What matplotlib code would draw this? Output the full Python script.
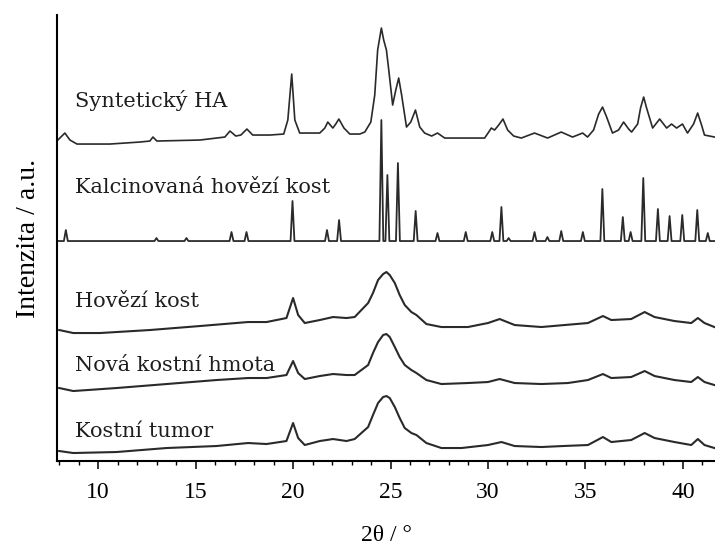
import matplotlib
matplotlib.use("Agg")
import matplotlib.pyplot as plt
import numpy as np
from matplotlib.ticker import MultipleLocator

# XRD patterns, 2theta in degrees, intensity in a.u. above each trace's own baseline
ha_2theta = [7.93, 8.29, 8.55, 8.91, 10.60, 12.14, 12.65, 12.81, 13.01, 15.22, 16.50, 16.76,
             17.06, 17.32, 17.63, 17.93, 18.81, 19.52, 19.73, 19.93, 20.09, 20.34, 21.37,
             21.63, 21.78, 22.04, 22.19, 22.35, 22.61, 22.91, 23.42, 23.68, 23.99, 24.19,
             24.34, 24.53, 24.65, 24.79, 24.91, 25.11, 25.27, 25.42, 25.57, 25.82, 26.04,
             26.28, 26.50, 26.75, 27.11, 27.41, 27.78, 29.83, 30.04, 30.17, 30.34, 30.55,
             30.77, 31.01, 31.32, 31.71, 32.39, 33.06, 33.76, 34.34, 34.86, 35.11, 35.42,
             35.68, 35.88, 36.09, 36.39, 36.70, 36.96, 37.22, 37.37, 37.68, 37.83, 37.99,
             38.14, 38.45, 38.81, 39.17, 39.42, 39.68, 39.98, 40.24, 40.55, 40.76, 40.96,
             41.11, 41.63]
ha_int = [3, 10, 3, -1, -1, 1, 2, 6, 2, 3, 6, 12,
          7, 8, 14, 8, 8, 9, 23, 69, 23, 10, 10,
          15, 21, 15, 19, 24, 15, 9, 9, 11, 21, 48,
          93, 115, 103, 93, 73, 38, 53, 65, 48, 16, 21,
          33, 16, 10, 7, 10, 5, 5, 11, 15, 13, 18,
          24, 13, 7, 5, 10, 5, 11, 6, 10, 6, 13,
          29, 36, 26, 10, 13, 21, 14, 11, 19, 35, 46,
          35, 15, 24, 15, 19, 15, 19, 10, 19, 30, 18,
          8, 6]

# calcined bone: sharp reflections (position, height)
calc_pos = [8.34, 12.99, 14.53, 16.84, 17.61, 19.97, 21.74, 22.36, 24.53, 24.84, 25.38,
            26.29, 27.41, 28.86, 30.22, 30.69, 31.06, 32.39, 33.05, 33.76, 34.87, 35.87,
            36.92, 37.32, 37.97, 38.72, 39.32, 39.97, 40.74, 41.28]
calc_height = [11, 3, 3, 9, 9, 40, 11, 21, 121, 66, 78,
               30, 8, 9, 9, 34, 3, 9, 4, 10, 9, 52,
               24, 9, 63, 32, 25, 26, 31, 8]

bone_2theta = [8.00, 8.72, 10.09, 12.65, 15.22, 17.69, 18.64, 19.66, 20.00, 20.26, 20.60,
               21.37, 22.05, 22.74, 23.16, 23.85, 24.10, 24.36, 24.62, 24.79, 24.96, 25.22,
               25.47, 25.73, 26.07, 26.33, 26.84, 27.61, 28.97, 30.00, 30.60, 31.37, 32.74,
               33.93, 35.13, 35.90, 36.33, 37.35, 38.04, 38.55, 39.57, 40.43, 40.77, 41.11,
               41.62]
bone_int = [2, -1, -1, 2, 6, 10, 10, 14, 34, 17, 9,
            12, 15, 14, 15, 29, 39, 52, 58, 60, 57, 49,
            37, 27, 20, 17, 8, 5, 5, 9, 13, 7, 5,
            7, 9, 16, 12, 13, 20, 15, 11, 9, 14, 9,
            5]

new_2theta = [8.00, 8.72, 10.94, 13.51, 16.07, 17.69, 18.64, 19.66, 20.00, 20.26, 20.60,
              21.37, 22.05, 22.74, 23.16, 23.85, 24.10, 24.36, 24.62, 24.79, 24.96, 25.22,
              25.47, 25.73, 26.07, 26.33, 26.84, 27.61, 28.97, 30.00, 30.60, 31.37, 32.74,
              34.10, 35.13, 35.90, 36.33, 37.35, 38.04, 38.55, 39.57, 40.43, 40.77, 41.11,
              41.62]
new_int = [1, -2, 1, 5, 9, 11, 11, 14, 28, 16, 10,
           13, 15, 14, 14, 24, 36, 47, 54, 55, 52, 42,
           32, 24, 19, 16, 9, 5, 6, 7, 10, 6, 5,
           6, 9, 15, 11, 12, 18, 13, 9, 7, 12, 7,
           4]

tumor_2theta = [8.00, 8.72, 10.94, 13.51, 16.07, 17.69, 18.64, 19.66, 20.00, 20.26, 20.60,
                21.37, 22.05, 22.74, 23.16, 23.85, 24.10, 24.36, 24.62, 24.79, 24.96, 25.22,
                25.47, 25.73, 26.07, 26.33, 26.84, 27.61, 28.64, 30.00, 30.69, 31.37, 32.74,
                33.85, 35.13, 35.90, 36.33, 37.35, 38.04, 38.55, 39.57, 40.43, 40.77, 41.11,
                41.62]
tumor_int = [0, -2, -1, 3, 5, 8, 7, 10, 28, 13, 6,
             10, 12, 10, 12, 24, 36, 48, 54, 55, 53, 44,
             33, 23, 18, 16, 8, 3, 3, 6, 9, 5, 4,
             5, 6, 14, 9, 11, 18, 13, 9, 6, 12, 6,
             3]

labels = ["Syntetický HA", "Kalcinovaná hovězí kost", "Hovězí kost",
          "Nová kostní hmota", "Kostní tumor"]
offsets = [318, 220, 129, 72, 10]
label_y = [354, 268, 154, 90, 24]

# calcined trace: flat baseline with narrow triangular reflections
half_w = 0.1
calc_x = [7.9]
calc_y = [0]
for p, h in zip(calc_pos, calc_height):
    calc_x += [p - half_w, p, p + half_w]
    calc_y += [0, h, 0]
calc_x.append(41.65)
calc_y.append(0)

traces = [(ha_2theta, ha_int, 1.2), (calc_x, calc_y, 1.3), (bone_2theta, bone_int, 1.5),
          (new_2theta, new_int, 1.5), (tumor_2theta, tumor_int, 1.5)]

fig = plt.figure(figsize=(7.15, 5.51), dpi=100)
ax = fig.add_axes([0.0801, 0.1633, 0.9199, 0.8094])

for (x, y, lw), off in zip(traces, offsets):
    ax.plot(x, np.array(y) + off, color="#2a2a2a", lw=lw, solid_joinstyle="round")

for name, ly in zip(labels, label_y):
    ax.text(8.83, ly, name, fontsize=15, family="DejaVu Serif", color="#1e1e1e",
            va="baseline", ha="left")

ax.set_xlim(7.9, 41.65)
ax.set_ylim(0, 446)
ax.spines["top"].set_visible(False)
ax.spines["right"].set_visible(False)
ax.spines["left"].set_linewidth(1.5)
ax.spines["bottom"].set_linewidth(1.5)
ax.set_yticks([])
ax.xaxis.set_major_locator(MultipleLocator(5))
ax.xaxis.set_minor_locator(MultipleLocator(1))
ax.tick_params(axis="x", which="major", direction="out", length=6, width=1.1, pad=9,
               labelsize=17)
ax.tick_params(axis="x", which="minor", direction="out", length=3, width=1.0)
for t in ax.get_xticklabels():
    t.set_family("Liberation Serif")

ax.set_xlabel("2θ / °", fontsize=17, family="Liberation Serif", labelpad=16)
ax.set_ylabel("Intenzita / a.u.", fontsize=20, family="Liberation Serif", labelpad=12)

fig.savefig("out.png", dpi=100)
